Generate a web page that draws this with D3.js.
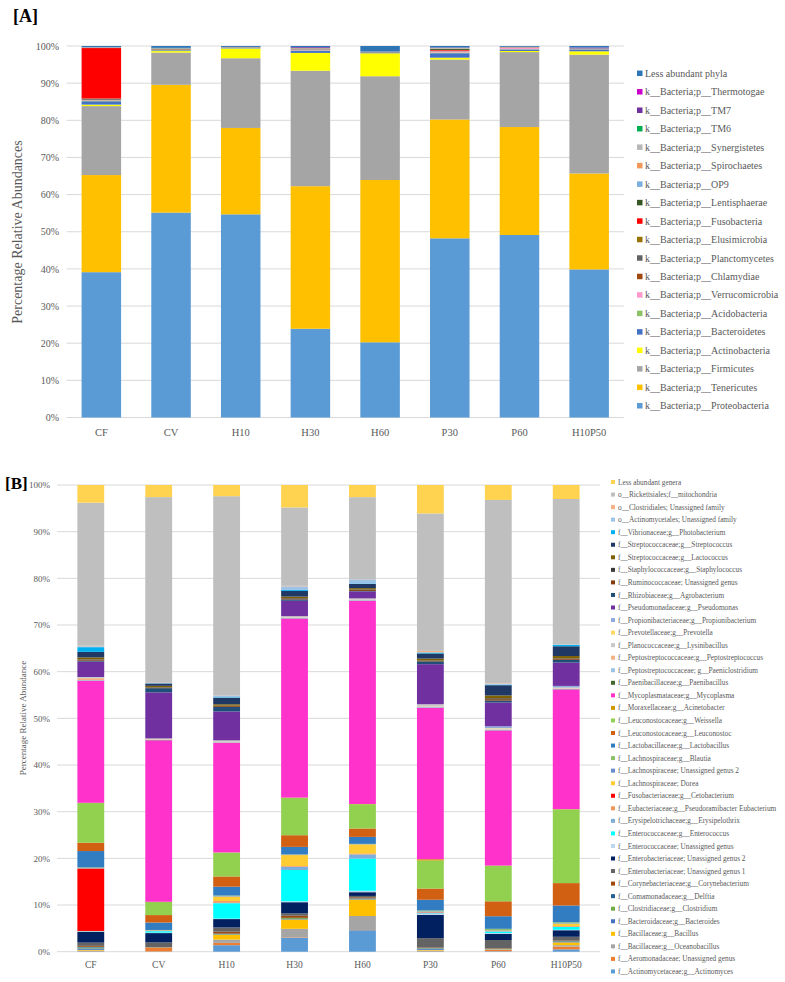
<!DOCTYPE html>
<html><head><meta charset="utf-8">
<script src="https://cdn.jsdelivr.net/npm/d3@7"></script>
<style>
body{margin:0;background:#fff}
text{font-family:"Liberation Serif","Times New Roman",serif}
</style>
</head><body>
<svg id="chart" width="785" height="982"></svg>
<script>
// ---------------- DATA ----------------
const samples = ["CF","CV","H10","H30","H60","P30","P60","H10P50"];
const yTicks = [0,0.1,0.2,0.3,0.4,0.5,0.6,0.7,0.8,0.9,1.0];

// Panel A: phyla, stack order bottom -> top
const phyla = [
  "k__Bacteria;p__Proteobacteria","k__Bacteria;p__Tenericutes","k__Bacteria;p__Firmicutes",
  "k__Bacteria;p__Actinobacteria","k__Bacteria;p__Bacteroidetes","k__Bacteria;p__Acidobacteria",
  "k__Bacteria;p__Verrucomicrobia","k__Bacteria;p__Chlamydiae","k__Bacteria;p__Planctomycetes",
  "k__Bacteria;p__Elusimicrobia","k__Bacteria;p__Fusobacteria","k__Bacteria;p__Lentisphaerae",
  "k__Bacteria;p__OP9","k__Bacteria;p__Spirochaetes","k__Bacteria;p__Synergistetes",
  "k__Bacteria;p__TM6","k__Bacteria;p__TM7","k__Bacteria;p__Thermotogae","Less abundant phyla"
];
const phylaColors = ["#5B9BD5","#FFC000","#A5A5A5","#FFFF00","#4472C4","#8CC168","#FF99CC","#9E480E",
  "#636363","#997300","#FF0000","#375623","#7CAFDD","#F1975A","#B7B7B7","#00B050","#7030A0","#CC00CC","#2E75B6"];
const phylaCF     = [39.2,26.2,18.6,0.4,0.9,0.2,0.1,0.1,0.3,0.05,13.6,0.05,0.05,0.05,0.05,0.02,0.02,0.02,0.3];
const phylaCV     = [55.3,34.5,8.7,0.4,0.2,0.1,0.05,0.05,0.1,0.02,0.05,0.1,0.1,0.02,0.02,0.02,0.02,0.02,0.5];
const phylaH10    = [54.8,23.3,18.8,2.6,0.1,0.05,0.05,0.02,0.05,0.02,0.02,0.02,0.02,0.02,0.02,0.02,0.02,0.02,0.25];
const phylaH30    = [23.9,38.4,31.1,4.8,0.6,0.1,0.2,0.05,0.1,0.05,0.05,0.02,0.05,0.05,0.02,0.05,0.2,0.02,0.3];
const phylaH60    = [20.3,43.8,28.0,6.2,0.2,0.02,0.02,0.02,0.02,0.02,0.02,0.02,0.02,0.02,0.02,0.02,0.02,0.02,1.5];
const phylaP30    = [48.4,32.1,16.2,0.5,1.2,0.2,0.3,0.05,0.1,0.05,0.2,0.3,0.05,0.1,0.05,0.05,0.05,0.05,0.4];
const phylaP60    = [49.2,29.1,20.2,0.3,0.4,0.1,0.3,0.02,0.05,0.02,0.05,0.02,0.05,0.05,0.02,0.02,0.02,0.02,0.2];
const phylaH10P50 = [40.0,25.9,32.1,0.9,0.5,0.05,0.05,0.02,0.05,0.02,0.02,0.02,0.02,0.02,0.02,0.02,0.2,0.02,0.4];

// Panel B: genera, stack order bottom -> top
const genera = [
  "f__Actinomycetaceae;g__Actinomyces","f__Aeromonadaceae; Unassigned genus","f__Bacillaceae;g__Oceanobacillus",
  "f__Bacillaceae;g__Bacillus","f__Bacteroidaceae;g__Bacteroides","f__Clostridiaceae;g__Clostridium",
  "f__Comamonadaceae;g__Delftia","f__Corynebacteriaceae;g__Corynebacterium","f__Enterobacteriaceae; Unassigned genus 1",
  "f__Enterobacteriaceae; Unassigned genus 2","f__Enterococcaceae; Unassigned genus","f__Enterococcaceae;g__Enterococcus",
  "f__Erysipelotrichaceae;g__Erysipelothrix","f__Eubacteriaceae;g__Pseudoramibacter Eubacterium","f__Fusobacteriaceae;g__Cetobacterium",
  "f__Lachnospiraceae; Dorea","f__Lachnospiraceae; Unassigned genus 2","f__Lachnospiraceae;g__Blautia",
  "f__Lactobacillaceae;g__Lactobacillus","f__Leuconostocaceae;g__Leuconostoc","f__Leuconostocaceae;g__Weissella",
  "f__Moraxellaceae;g__Acinetobacter","f__Mycoplasmataceae;g__Mycoplasma","f__Paenibacillaceae;g__Paenibacillus",
  "f__Peptostreptococcaceae; g__Paeniclostridium","f__Peptostreptococcaceae;g__Peptostreptococcus","f__Planococcaceae;g__Lysinibacillus",
  "f__Prevotellaceae;g__Prevotella","f__Propionibacteriaceae;g__Propionibacterium","f__Pseudomonadaceae;g__Pseudomonas",
  "f__Rhizobiaceae;g__Agrobacterium","f__Ruminococcaceae; Unassigned genus","f__Staphylococcaceae;g__Staphylococcus",
  "f__Streptococcaceae;g__Lactococcus","f__Streptococcaceae;g__Streptococcus","f__Vibrionaceae;g__Photobacterium",
  "o__Actinomycetales; Unassigned family","o__Clostridiales; Unassigned family","o__Rickettsiales;f__mitochondria",
  "Less abundant genera"
];
const generaColors = ["#5B9BD5","#ED7D31","#A5A5A5","#FFC000","#4472C4","#70AD47","#255E91","#9E480E",
  "#636363","#002060","#BDD7EE","#00FFFF","#7CAFDD","#F1975A","#FF0000","#FFCD33","#698ED0","#8CC168",
  "#327DC2","#D26012","#92D050","#CC9A00","#FF33CC","#43682B","#9DC3E6","#F4B183","#C9C9C9","#FFD966",
  "#8FAADC","#7030A0","#1F4E79","#843C0C","#3A3A3A","#7F6000","#203864","#00B0F0","#9DC3E6","#F4B183",
  "#BFBFBF","#FFD34F"];
const generaCF     = [0.1,0.1,0.05,0.15,0.3,0.2,0.15,0.2,0.7,2.3,0.05,0.05,0.05,0.05,13.4,0.05,0.1,0.1,3.5,1.8,8.5,0.05,26.2,0.05,0.1,0.4,0.1,0.05,0.1,3.3,0.2,0.2,0.1,0.4,1.2,1.0,0.2,0.1,30.7,3.8];
const generaCV     = [0.05,0.8,0.02,0.02,0.02,0.02,0.02,0.05,1.0,2.0,0.1,0.3,0.05,0.05,0.02,0.05,0.05,0.05,1.6,1.6,2.8,0.05,34.7,0.05,0.1,0.1,0.05,0.05,0.05,9.9,0.9,0.1,0.1,0.3,0.5,0.05,0.05,0.05,39.9,2.6];
const generaH10    = [1.4,0.5,0.7,1.0,0.1,0.1,0.1,0.4,0.9,1.8,0.1,3.3,0.1,0.3,0.05,1.0,0.1,0.1,1.9,2.2,5.1,0.05,23.5,0.05,0.1,0.1,0.2,0.05,0.05,6.2,1.0,0.2,0.05,0.3,1.4,0.1,0.4,0.05,42.7,2.4];
const generaH30    = [3.0,0.1,1.8,2.0,0.1,0.2,0.05,0.45,0.5,2.4,0.2,6.7,0.7,0.05,0.05,2.4,0.1,0.05,1.6,2.5,8.0,0.05,38.35,0.05,0.1,0.05,0.2,0.05,0.05,3.3,0.3,0.2,0.1,0.3,1.2,0.2,0.8,0.1,16.8,4.8];
const generaH60    = [4.6,0.05,3.0,3.5,0.1,0.1,0.1,0.2,0.3,0.8,0.3,6.9,0.9,0.1,0.05,2.0,0.05,0.05,1.5,1.8,5.2,0.05,43.55,0.05,0.1,0.05,0.2,0.05,0.05,1.5,0.1,0.2,0.1,0.3,0.9,0.1,0.9,0.05,17.55,2.6];
const generaP30    = [0.1,0.1,0.05,0.15,0.3,0.1,0.1,0.1,1.9,5.0,0.2,0.1,0.2,0.05,0.05,0.05,0.1,0.2,2.3,2.4,6.0,0.3,32.5,0.05,0.1,0.1,0.4,0.05,0.05,8.6,0.6,0.1,0.1,0.4,1.1,0.2,0.05,0.3,29.5,6.1];
const generaP60    = [0.1,0.3,0.05,0.05,0.05,0.05,0.05,0.1,1.75,1.3,0.2,0.3,0.1,0.05,0.05,0.05,0.05,0.3,2.7,3.2,7.6,0.05,28.95,0.05,0.1,0.05,0.2,0.1,0.4,5.1,0.4,0.3,0.2,0.6,2.2,0.1,0.2,0.1,39.3,3.2];
const generaH10P50 = [0.5,0.6,0.3,0.6,0.1,0.1,0.1,0.1,0.8,1.4,0.1,0.6,0.05,0.05,0.05,0.55,0.1,0.2,3.6,4.8,15.8,0.05,25.65,0.05,0.1,0.1,0.1,0.05,0.35,5.0,0.6,0.2,0.1,0.5,2.1,0.3,0.1,0.05,31.1,3.0];

// ---------------- DRAW ----------------
const svg = d3.select("#chart");
const grey = "#595959";
const serif = '"Liberation Serif","Times New Roman",serif';

function drawPanel(o) {
  const rows = samples.map((s, i) => {
    const r = {sample: s};
    o.keys.forEach((k, j) => r[k] = o.values[i][j]);
    return r;
  });
  const x = d3.scaleBand().domain(samples).range([o.x0, o.x1])
    .paddingInner(o.padIn).paddingOuter(o.padOut);
  const y = d3.scaleLinear().domain([0, 1]).range([o.yBot, o.yTop]);
  const g = svg.append("g");

  // gridlines
  g.selectAll("line.grid").data(yTicks).join("line")
    .attr("x1", o.x0).attr("x2", o.x1)
    .attr("y1", d => y(d)).attr("y2", d => y(d))
    .attr("stroke", "#d9d9d9").attr("stroke-width", 1);

  // y axis labels
  const yAxis = d3.axisLeft(y).tickValues(yTicks).tickFormat(d3.format(".0%")).tickSize(0).tickPadding(0);
  const ya = g.append("g").attr("transform", `translate(${o.tickX},0)`).call(yAxis);
  ya.select(".domain").remove();
  ya.selectAll("text").attr("fill", grey).style("font-size", o.tickFont + "px")
    .style("font-family", serif);

  // bars
  const stack = d3.stack().keys(o.keys).offset(d3.stackOffsetExpand);
  const series = stack(rows);
  g.selectAll("g.s").data(series).join("g")
    .attr("fill", (d, i) => o.colors[i])
    .selectAll("rect").data(d => d).join("rect")
    .attr("x", d => x(d.data.sample))
    .attr("width", x.bandwidth())
    .attr("y", d => y(d[1]))
    .attr("height", d => Math.max(0, y(d[0]) - y(d[1])));

  // x axis labels
  const xAxis = d3.axisBottom(x).tickSize(0).tickPadding(0);
  const xa = g.append("g").attr("transform", `translate(0,${o.catY})`).call(xAxis);
  xa.select(".domain").remove();
  xa.selectAll("text").attr("fill", grey).attr("dy", "0.35em").attr("y", 0)
    .style("font-size", o.catFont + "px").style("font-family", serif);

  // y title
  g.append("text").attr("transform", `translate(${o.titleX},${o.titleY}) rotate(-90)`)
    .attr("text-anchor", "middle").attr("dy", "0.35em")
    .attr("fill", grey).style("font-size", o.titleFont + "px").style("font-family", serif).text(o.title);

  // panel label
  g.append("text").attr("x", o.labX).attr("y", o.labY)
    .style("font-size", o.labFont + "px").style("font-weight", "bold").style("font-family", serif)
    .attr("fill", "#000").text(o.label);

  // legend (reversed order)
  const legKeys = o.keys.map((k, i) => ({k, c: o.colors[i]})).reverse();
  const lg = g.append("g");
  const items = lg.selectAll("g").data(legKeys).join("g")
    .attr("transform", (d, i) => `translate(${o.legX},${o.legY0 + i * o.legStep})`);
  items.append("rect").attr("x", 0).attr("y", -o.mk / 2).attr("width", o.mk).attr("height", o.mk)
    .attr("fill", d => d.c);
  items.append("text").attr("x", o.mk + o.legGap).attr("dy", "0.35em")
    .attr("fill", grey).style("font-size", o.legFont + "px").style("font-family", serif).text(d => d.k);
}

drawPanel({
  keys: phyla, colors: phylaColors,
  values: [phylaCF, phylaCV, phylaH10, phylaH30, phylaH60, phylaP30, phylaP60, phylaH10P50],
  x0: 66.5, x1: 624, padIn: 0.433, padOut: 0.2165, yTop: 46, yBot: 417.5,
  tickX: 59, tickFont: 10, catY: 432, catFont: 10.5,
  title: "Percentage Relative Abundances", titleX: 17, titleY: 232, titleFont: 14,
  label: "[A]", labX: 13, labY: 22, labFont: 18,
  legX: 637, legY0: 73.3, legStep: 18.47, mk: 5.5, legGap: 2.5, legFont: 10
});

drawPanel({
  keys: genera, colors: generaColors,
  values: [generaCF, generaCV, generaH10, generaH30, generaH60, generaP30, generaP60, generaH10P50],
  x0: 57, x1: 600, padIn: 0.605, padOut: 0.3, yTop: 485, yBot: 951.7,
  tickX: 50, tickFont: 9, catY: 965, catFont: 9.5,
  title: "Percentage Relative Abundance", titleX: 22.5, titleY: 718, titleFont: 9,
  label: "[B]", labX: 5, labY: 489, labFont: 17,
  legX: 611, legY0: 482, legStep: 12.55, mk: 4, legGap: 3, legFont: 7.3
});
</script>
</body></html>
